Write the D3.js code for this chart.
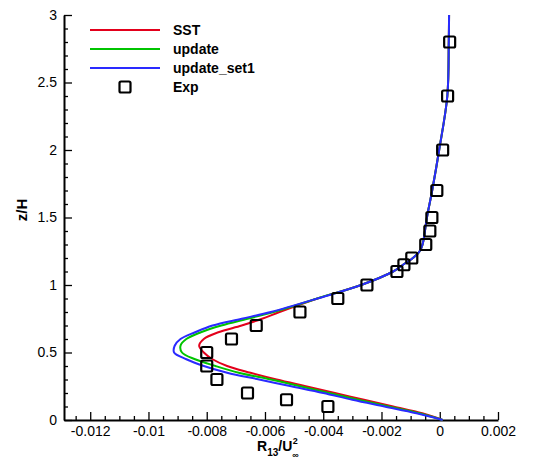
<!doctype html>
<html lang="en">
<head>
    <meta charset="UTF-8">
    <script src="https://cdnjs.cloudflare.com/ajax/libs/d3/7.8.5/d3.min.js"></script>
    <title>R13 profile</title>
    <style>
        body { margin: 0; background: #fff; }
        text { font-family: "Liberation Sans", Arial, sans-serif; }
    </style>
</head>
<body>

<div id="viz_area"></div>

<script>
    const W = 534, H = 464;
    const margin = {top: 15, right: 36, bottom: 44, left: 64},
        width = W - margin.left - margin.right,
        height = H - margin.top - margin.bottom;

    // z/H levels shared by the three model curves
    const zLevels = [0, 0.05, 0.1, 0.15, 0.2, 0.25, 0.3, 0.35, 0.4, 0.45, 0.5, 0.55, 0.6, 0.65, 0.7, 0.75,
        0.8, 0.9, 1.0, 1.1, 1.15, 1.2, 1.25, 1.3, 1.5, 1.7, 2.0, 2.4, 2.8, 3.0];

    const sst = [0.0001, -0.0006, -0.0016, -0.0026, -0.0036, -0.0046, -0.0056, -0.0065, -0.0073, -0.0078,
        -0.0081, -0.00826, -0.0081, -0.0076, -0.0068, -0.0061,
        -0.0055, -0.0042, -0.0027, -0.0016, -0.00126, -0.00092, -0.00069, -0.00059, -0.00044, -0.00026,
        -0.00002, 0.00026, 0.00031, 0.00032];
    const update = [0.0001, -0.0007, -0.00175, -0.0028, -0.0038, -0.0048, -0.0058, -0.0069, -0.0077, -0.0084,
        -0.00885, -0.0089, -0.0087, -0.0082, -0.0075, -0.0066,
        -0.0057, -0.0042, -0.0027, -0.0016, -0.00126, -0.00092, -0.00069, -0.00059, -0.00044, -0.00026,
        -0.00002, 0.00026, 0.00031, 0.00032];
    const updateSet1 = [0.0001, -0.0008, -0.0019, -0.0030, -0.0040, -0.0051, -0.0062, -0.0073, -0.0081, -0.0087,
        -0.00912, -0.0091, -0.0089, -0.0084, -0.0078, -0.0068,
        -0.0058, -0.0042, -0.0027, -0.0016, -0.00126, -0.00092, -0.00069, -0.00059, -0.00044, -0.00026,
        -0.00002, 0.00026, 0.00031, 0.00032];

    // experiment
    const expZ = [2.8, 2.4, 2.0, 1.7, 1.5, 1.4, 1.3, 1.2, 1.15, 1.1, 1.0, 0.9, 0.8, 0.7, 0.6, 0.5, 0.4, 0.3, 0.2, 0.15, 0.1];
    const expR = [0.00034, 0.00027, 0.0001, -0.0001, -0.00027, -0.00034, -0.00048, -0.00096, -0.00123, -0.00147,
        -0.0025, -0.0035, -0.0048, -0.0063, -0.00715, -0.008, -0.008, -0.00765, -0.0066, -0.00526, -0.00384];

    const xTicks = [-0.012, -0.01, -0.008, -0.006, -0.004, -0.002, 0, 0.002];
    const xTickLabels = ["-0.012", "-0.01", "-0.008", "-0.006", "-0.004", "-0.002", "0", "0.002"];
    const yTicks = [0, 0.5, 1, 1.5, 2, 2.5, 3];
    const yTickLabels = ["0", "0.5", "1", "1.5", "2", "2.5", "3"];

    const seriesNames = ["SST", "update", "update_set1"];
    const seriesColors = ["#e3001b", "#00c400", "#2a2aff"];
    const seriesData = [sst, update, updateSet1];

    const svg = d3.select('#viz_area')
        .append("svg")
        .attr("width", W)
        .attr("height", H);

    const g = svg.append("g")
        .attr("transform", `translate(${margin.left},${margin.top})`);

    const x = d3.scaleLinear().domain([-0.0129, 0.002]).range([0, width]);
    const y = d3.scaleLinear().domain([0, 3]).range([height, 0]);

    // minor ticks
    const xMinor = d3.range(-0.0125, 0.0021, 0.0005).filter(v => !xTicks.some(t => Math.abs(t - v) < 1e-9));
    const yMinor = d3.range(0.1, 3, 0.1).filter(v => !yTicks.some(t => Math.abs(t - v) < 1e-9));

    g.append("g")
        .attr("transform", `translate(0,${height})`)
        .call(d3.axisBottom(x).tickValues(xMinor).tickSize(-4).tickFormat(""))
        .call(a => a.select(".domain").remove());
    g.append("g")
        .call(d3.axisLeft(y).tickValues(yMinor).tickSize(-4).tickFormat(""))
        .call(a => a.select(".domain").remove());

    const xAxis = g.append("g")
        .attr("transform", `translate(0,${height})`)
        .call(d3.axisBottom(x).tickValues(xTicks).tickSize(-8).tickPadding(6)
            .tickSizeOuter(0)
            .tickFormat((d, i) => xTickLabels[i]));
    const yAxis = g.append("g")
        .call(d3.axisLeft(y).tickValues(yTicks).tickSize(-8).tickPadding(7)
            .tickSizeOuter(0)
            .tickFormat((d, i) => yTickLabels[i]));

    [xAxis, yAxis].forEach(a => {
        a.selectAll("text").attr("font-size", 14).attr("fill", "#000")
            .style("font-family", "'Liberation Sans', Arial, sans-serif");
        a.select(".domain").attr("stroke", "#000").attr("stroke-width", 2);
    });
    g.selectAll(".tick line").attr("stroke", "#000").attr("stroke-width", 1.3);

    // model curves, x as a function of z
    const line = d3.line()
        .x(d => x(d[0]))
        .y(d => y(d[1]))
        .curve(d3.curveCatmullRom.alpha(0.5));

    seriesData.forEach((s, i) => {
        g.append("path")
            .datum(s.map((v, k) => [v, zLevels[k]]))
            .attr("fill", "none")
            .attr("stroke", seriesColors[i])
            .attr("stroke-width", 2)
            .attr("d", line);
    });

    // experimental squares
    const sq = 11;
    g.selectAll("rect.exp")
        .data(expR.map((v, k) => [v, expZ[k]]))
        .join("rect")
        .attr("class", "exp")
        .attr("x", d => x(d[0]) - sq / 2)
        .attr("y", d => y(d[1]) - sq / 2)
        .attr("width", sq)
        .attr("height", sq)
        .attr("rx", 1.5)
        .attr("fill", "none")
        .attr("stroke", "#000")
        .attr("stroke-width", 2.2);

    // legend
    const legend = svg.append("g").attr("transform", "translate(90,30)");
    seriesNames.forEach((name, i) => {
        legend.append("line")
            .attr("x1", 0).attr("x2", 70)
            .attr("y1", i * 19).attr("y2", i * 19)
            .attr("stroke", seriesColors[i])
            .attr("stroke-width", 2);
        legend.append("text")
            .attr("x", 83).attr("y", i * 19 + 5)
            .attr("font-size", 14).attr("font-weight", "bold")
            .text(name);
    });
    legend.append("rect")
        .attr("x", 35 - sq / 2).attr("y", 57 - sq / 2)
        .attr("width", sq).attr("height", sq).attr("rx", 1.5)
        .attr("fill", "none").attr("stroke", "#000").attr("stroke-width", 2.2);
    legend.append("text")
        .attr("x", 83).attr("y", 57 + 5)
        .attr("font-size", 14).attr("font-weight", "bold")
        .text("Exp");

    // axis titles
    svg.append("text")
        .attr("transform", "translate(27,210) rotate(-90)")
        .attr("text-anchor", "middle")
        .attr("font-size", 15).attr("font-weight", "bold")
        .text("z/H");

    const xt = svg.append("text")
        .attr("x", 257).attr("y", 451)
        .attr("font-size", 14).attr("font-weight", "bold");
    xt.append("tspan").text("R");
    xt.append("tspan").attr("font-size", 10).attr("dy", 5).text("13");
    xt.append("tspan").attr("dy", -5).text("/U");
    const endX = 257 + xt.node().getComputedTextLength();
    svg.append("text")
        .attr("x", endX + 0.5).attr("y", 444)
        .attr("font-size", 9).attr("font-weight", "bold")
        .text("2");
    svg.append("text")
        .attr("x", endX).attr("y", 458)
        .attr("font-size", 9).attr("font-weight", "bold")
        .text("\u221E");
</script>
</body>
</html>
